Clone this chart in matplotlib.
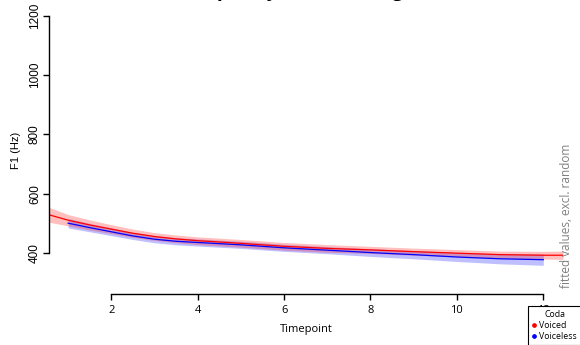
import matplotlib
matplotlib.use("Agg")
import matplotlib.pyplot as plt
from matplotlib.lines import Line2D

# data (fitted F1 per timepoint, with CI half widths)
voiced_t = [0.565, 1, 1.5, 2, 2.5, 3, 3.5, 4, 5, 6, 7, 8, 9, 10, 11, 12, 12.456]
voiced_f1 = [529, 511, 495, 481, 467, 456, 448, 442, 433, 423, 416, 411, 405, 400, 395, 393, 393]
voiced_ci = [25, 19, 17, 15, 14, 13, 13, 13, 13, 13, 13, 12, 12, 12, 12, 13, 14]

voiceless_t = [1, 1.5, 2, 2.5, 3, 3.5, 4, 5, 6, 7, 8, 9, 10, 11, 12]
voiceless_f1 = [501, 486, 472, 458, 447, 440, 436, 428, 418, 410, 402, 395, 387, 381, 378]
voiceless_ci = [16, 14, 13, 12, 12, 12, 12, 12, 12, 12, 13, 14, 15, 17, 19]

group_names = ["Voiced", "Voiceless"]
group_cols = ["red", "blue"]
yticks = [400, 600, 800, 1000, 1200]
xticks = [2, 4, 6, 8, 10, 12]

W, H = 580, 345
fig = plt.figure(figsize=(W / 100, H / 100), dpi=100)
ax = fig.add_axes([49.3 / W, (H - 294) / H, (563 - 49.3) / W, (294 - 6) / H])

# voiceless first so the voiced band sits on top (as in the original)
lo = [m - c for m, c in zip(voiceless_f1, voiceless_ci)]
hi = [m + c for m, c in zip(voiceless_f1, voiceless_ci)]
ax.fill_between(voiceless_t, lo, hi, color="blue", alpha=0.25, lw=0)
ax.plot(voiceless_t, voiceless_f1, color="blue", lw=0.9)

lo = [m - c for m, c in zip(voiced_f1, voiced_ci)]
hi = [m + c for m, c in zip(voiced_f1, voiced_ci)]
ax.fill_between(voiced_t, lo, hi, color="red", alpha=0.25, lw=0)
ax.plot(voiced_t, voiced_f1, color="red", lw=0.9)

ax.set_xlim(0.565, 12.456)
ax.set_ylim(262.4, 1232.6)
for s in ["top", "right"]:
    ax.spines[s].set_visible(False)
ax.spines["left"].set_bounds(400, 1200)
ax.spines["bottom"].set_bounds(2, 12)
ax.spines["left"].set_linewidth(1.0)
ax.spines["bottom"].set_linewidth(1.0)

ax.set_yticks(yticks)
ax.set_yticklabels([str(v) for v in yticks], rotation=90, va="center",
                   family="Liberation Sans", fontsize=8.5)
ax.set_xticks(xticks)
ax.set_xticklabels([str(v) for v in xticks], family="Open Sans", fontsize=8)
ax.tick_params(axis="y", length=4, width=1, pad=2)
ax.tick_params(axis="x", length=4, width=1, pad=4)

ax.set_xlabel("Timepoint", family="Open Sans", fontsize=8, labelpad=6)
ax.set_ylabel("F1 (Hz)", family="Liberation Sans", fontsize=8, labelpad=6)

# title is mostly cut off at the top edge in the original
fig.text(305 / W, 1 + 3.5 / H, "Split by coda voicing", ha="center",
         va="baseline", fontsize=14, fontweight="bold", family="Open Sans")

fig.text(567 / W, 1 - 215.5 / H, "fitted values, excl. random", rotation=90,
         ha="center", va="center", color="gray", fontsize=8.5, family="Open Sans")

handles = [Line2D([], [], ls="", marker="o", ms=2.4, color=c) for c in group_cols]
leg = fig.legend(handles, group_names, title="Coda", loc="upper left",
                 bbox_to_anchor=(528 / W, 1 - 306 / H), fancybox=False,
                 edgecolor="black", framealpha=1, borderpad=0.45,
                 handlelength=0.5, handletextpad=0.35, labelspacing=0.25,
                 borderaxespad=0, prop={"family": "Open Sans", "size": 6.3},
                 title_fontproperties={"family": "Open Sans", "size": 6.3})
leg.get_frame().set_linewidth(0.8)

fig.savefig("out.png", dpi=100)
